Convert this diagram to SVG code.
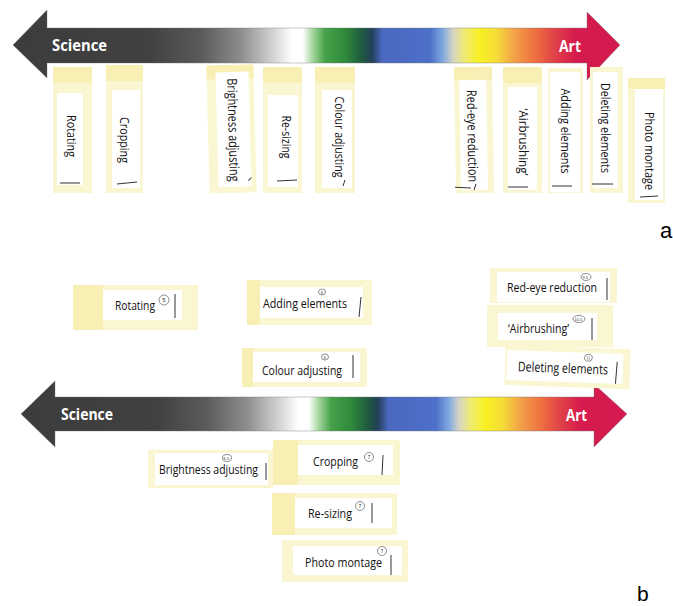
<svg xmlns="http://www.w3.org/2000/svg" xmlns:xlink="http://www.w3.org/1999/xlink" width="673" height="606" viewBox="0 0 673 606">
<defs>
<linearGradient id="spec" gradientUnits="userSpaceOnUse" x1="0" y1="0" x2="673" y2="0">
<stop offset="0" stop-color="#3c3c3c"/>
<stop offset="0.223" stop-color="#414141"/>
<stop offset="0.297" stop-color="#5a5a5a"/>
<stop offset="0.357" stop-color="#8c8c8c"/>
<stop offset="0.409" stop-color="#d8d8d8"/>
<stop offset="0.434" stop-color="#ffffff"/>
<stop offset="0.450" stop-color="#ffffff"/>
<stop offset="0.464" stop-color="#a8d8a0"/>
<stop offset="0.483" stop-color="#45a24a"/>
<stop offset="0.513" stop-color="#2f8a3a"/>
<stop offset="0.538" stop-color="#1f5a40"/>
<stop offset="0.553" stop-color="#23405a"/>
<stop offset="0.568" stop-color="#4a68c0"/>
<stop offset="0.639" stop-color="#4d70c8"/>
<stop offset="0.658" stop-color="#80a8e0"/>
<stop offset="0.673" stop-color="#d4d4c4"/>
<stop offset="0.691" stop-color="#f0ec70"/>
<stop offset="0.713" stop-color="#f8f020"/>
<stop offset="0.738" stop-color="#f5dc38"/>
<stop offset="0.765" stop-color="#f2a048"/>
<stop offset="0.795" stop-color="#ee7040"/>
<stop offset="0.825" stop-color="#e04048"/>
<stop offset="0.854" stop-color="#d61c4e"/>
<stop offset="1" stop-color="#d0164e"/>
</linearGradient>
<linearGradient id="spec2" xlink:href="#spec" href="#spec" gradientUnits="userSpaceOnUse" x1="6" y1="0" x2="679" y2="0"/>
</defs>
<style>
.note{fill:#fbf6d2}
.band{fill:#f7efb4}
.lbl{fill:#ffffff}
.t{font-family:"Open Sans","Liberation Sans",sans-serif;font-size:13.5px;fill:#111}
.end{font-family:"Open Sans","Liberation Sans",sans-serif;font-size:16px;font-weight:bold;fill:#ffffff}
.mk{stroke:#333;stroke-width:1;fill:none}
.c{stroke:#444;stroke-width:0.6;fill:none}
.ct{font-family:"Liberation Sans",sans-serif;font-size:5px;fill:#333}
.panel{font-family:"Liberation Sans",Arial,sans-serif;font-size:22px;fill:#000}
</style>

<g id="connectors">
<path id="arrow-a" d="M13,45 L47,10 L47,28 L587,28 L587,12 L620,45 L587,80 L587,63 L47,63 L47,78 Z" fill="url(#spec)" stroke="#777" stroke-width="0.4"/>
<path id="arrow-b" d="M21,414 L55,381 L55,397 L594,397 L594,384 L627,414 L594,447 L594,431 L55,431 L55,447 Z" fill="url(#spec2)" stroke="#777" stroke-width="0.4"/>
</g>

<g id="arrow-a-labels">
<text class="end" x="52" y="51" textLength="55" lengthAdjust="spacingAndGlyphs">Science</text>
<text class="end" x="559" y="52" textLength="22" lengthAdjust="spacingAndGlyphs">Art</text>
</g>
<g id="arrow-b-labels">
<text class="end" x="61" y="420" textLength="52" lengthAdjust="spacingAndGlyphs">Science</text>
<text class="end" x="566" y="421" textLength="21" lengthAdjust="spacingAndGlyphs">Art</text>
</g>

<!-- Panel a -->
<g id="a-rotating">
<rect class="note" x="53" y="67" width="39" height="126"/>
<rect class="band" x="53" y="67" width="39" height="16"/>
<rect class="lbl" x="57" y="93" width="26" height="92"/>
<text class="t" transform="translate(71,136) rotate(90)" x="0" y="4.5" text-anchor="middle" textLength="42" lengthAdjust="spacingAndGlyphs">Rotating</text>
<line class="mk" x1="60" y1="183" x2="80" y2="183"/>
</g>
<g id="a-cropping">
<rect class="note" x="106" y="65" width="37" height="128"/>
<rect class="band" x="106" y="65" width="37" height="16"/>
<rect class="lbl" x="112" y="90" width="28" height="98"/>
<text class="t" transform="translate(124,140) rotate(90)" x="0" y="4.5" text-anchor="middle" textLength="46" lengthAdjust="spacingAndGlyphs">Cropping</text>
<line class="mk" x1="117" y1="184" x2="137" y2="182"/>
</g>
<g id="a-brightness" transform="rotate(-1.5 231 129)">
<rect class="note" x="208" y="65" width="47" height="128"/>
<rect class="band" x="208" y="65" width="47" height="14"/>
<rect class="lbl" x="217" y="72" width="33" height="115"/>
<text class="t" transform="translate(233,130) rotate(90)" x="0" y="4.5" text-anchor="middle" textLength="103" lengthAdjust="spacingAndGlyphs">Brightness adjusting</text>
<line class="mk" x1="247" y1="181" x2="250" y2="178"/>
</g>
<g id="a-resizing">
<rect class="note" x="263" y="67" width="39" height="126"/>
<rect class="band" x="263" y="67" width="39" height="16"/>
<rect class="lbl" x="268" y="95" width="30" height="92"/>
<text class="t" transform="translate(286,137) rotate(90)" x="0" y="4.5" text-anchor="middle" textLength="43" lengthAdjust="spacingAndGlyphs">Re-sizing</text>
<line class="mk" x1="277" y1="181" x2="297" y2="180"/>
</g>
<g id="a-colour">
<rect class="note" x="315" y="67" width="40" height="126"/>
<rect class="band" x="315" y="67" width="40" height="16"/>
<rect class="lbl" x="322" y="90" width="30" height="98"/>
<text class="t" transform="translate(339,137) rotate(90)" x="0" y="4.5" text-anchor="middle" textLength="81" lengthAdjust="spacingAndGlyphs">Colour adjusting</text>
<line class="mk" x1="343" y1="186" x2="345" y2="180"/>
</g>
<g id="a-redeye" transform="rotate(-1 474 130)">
<rect class="note" x="455" y="67" width="38" height="126"/>
<rect class="band" x="455" y="67" width="38" height="13"/>
<rect class="lbl" x="460" y="80" width="27" height="110"/>
<text class="t" transform="translate(472,136) rotate(90)" x="0" y="4.5" text-anchor="middle" textLength="92" lengthAdjust="spacingAndGlyphs">Red-eye reduction</text>
<line class="mk" x1="454" y1="187" x2="470" y2="188"/>
<line class="mk" x1="473" y1="190" x2="475" y2="184"/>
</g>
<g id="a-airbrushing">
<rect class="note" x="503" y="67" width="39" height="126"/>
<rect class="band" x="503" y="67" width="39" height="16"/>
<rect class="lbl" x="508" y="87" width="29" height="103"/>
<text class="t" transform="translate(523,142) rotate(90)" x="0" y="4.5" text-anchor="middle" textLength="67" lengthAdjust="spacingAndGlyphs">‘Airbrushing’</text>
<line class="mk" x1="508" y1="187" x2="528" y2="187"/>
</g>
<g id="a-adding">
<rect class="note" x="548" y="68" width="35" height="125"/>
<rect class="lbl" x="550" y="72" width="30" height="120"/>
<text class="t" transform="translate(565,131) rotate(90)" x="0" y="4.5" text-anchor="middle" textLength="85" lengthAdjust="spacingAndGlyphs">Adding elements</text>
<line class="mk" x1="552" y1="186" x2="572" y2="186"/>
</g>
<g id="a-deleting">
<rect class="note" x="590" y="67" width="33" height="126"/>
<rect class="lbl" x="593" y="72" width="25" height="116"/>
<text class="t" transform="translate(605,128) rotate(90)" x="0" y="4.5" text-anchor="middle" textLength="90" lengthAdjust="spacingAndGlyphs">Deleting elements</text>
<line class="mk" x1="592" y1="184" x2="613" y2="184"/>
</g>
<g id="a-photomontage">
<rect class="note" x="628" y="78" width="37" height="125"/>
<rect class="band" x="628" y="78" width="37" height="11"/>
<rect class="lbl" x="635" y="89" width="28" height="111"/>
<text class="t" transform="translate(649,151) rotate(90)" x="0" y="4.5" text-anchor="middle" textLength="78" lengthAdjust="spacingAndGlyphs">Photo montage</text>
<line class="mk" x1="640" y1="197" x2="658" y2="196"/>
</g>
<text class="panel" x="660" y="238">a</text>

<!-- Panel b -->
<g id="b-rotating">
<rect class="note" x="73" y="285" width="125" height="45"/>
<rect class="band" x="73" y="285" width="30" height="45"/>
<rect class="lbl" x="103" y="290" width="79" height="30"/>
<text class="t" x="115" y="310" textLength="40" lengthAdjust="spacingAndGlyphs">Rotating</text>
<circle class="c" cx="164" cy="300" r="5"/>
<text class="ct" x="162.3" y="302" style="font-size:6px">5</text>
<line class="mk" x1="175" y1="294" x2="175" y2="318"/>
</g>
<g id="b-adding">
<rect class="note" x="247" y="280" width="125" height="45"/>
<rect class="band" x="247" y="280" width="13" height="45"/>
<rect class="lbl" x="260" y="287" width="103" height="31"/>
<text class="t" x="263" y="308" textLength="84" lengthAdjust="spacingAndGlyphs">Adding elements</text>
<ellipse class="c" cx="322" cy="292" rx="3.5" ry="3"/>
<text class="ct" x="320.8" y="293.8" style="font-size:4px">6</text>
<line class="mk" x1="361" y1="297" x2="359" y2="317"/>
</g>
<g id="b-colour">
<rect class="note" x="242" y="348" width="125" height="39"/>
<rect class="band" x="242" y="348" width="11" height="39"/>
<rect class="lbl" x="253" y="352" width="107" height="30"/>
<text class="t" x="262" y="375" textLength="80" lengthAdjust="spacingAndGlyphs">Colour adjusting</text>
<ellipse class="c" cx="325" cy="357" rx="3.5" ry="3"/>
<text class="ct" x="323.8" y="358.8" style="font-size:4px">6</text>
<line class="mk" x1="353" y1="355" x2="353" y2="378"/>
</g>
<g id="b-redeye">
<rect class="note" x="490" y="268" width="127" height="35"/>
<rect class="lbl" x="497" y="272" width="113" height="30"/>
<text class="t" x="507" y="292" textLength="90" lengthAdjust="spacingAndGlyphs">Red-eye reduction</text>
<ellipse class="c" cx="586" cy="277" rx="5" ry="3.5"/>
<text class="ct" x="582.5" y="278.6" style="font-size:4px">9.5</text>
<line class="mk" x1="607" y1="278" x2="607" y2="300"/>
</g>
<g id="b-airbrushing">
<rect class="note" x="487" y="305" width="126" height="42"/>
<rect class="lbl" x="498" y="313" width="99" height="27"/>
<text class="t" x="508" y="333" textLength="61" lengthAdjust="spacingAndGlyphs">‘Airbrushing’</text>
<ellipse class="c" cx="579" cy="319" rx="6" ry="3.5"/>
<text class="ct" x="574.5" y="320.6" style="font-size:4px">10.5</text>
<line class="mk" x1="592" y1="318" x2="592" y2="340"/>
</g>
<g id="b-deleting" transform="rotate(2 567 367)">
<rect class="note" x="505" y="347" width="125" height="40"/>
<rect class="lbl" x="507" y="352" width="116" height="30"/>
<text class="t" x="518" y="373" textLength="90" lengthAdjust="spacingAndGlyphs">Deleting elements</text>
<ellipse class="c" cx="588" cy="357" rx="4" ry="3.5"/>
<text class="ct" x="585.8" y="358.6" style="font-size:4px">11</text>
<line class="mk" x1="617" y1="360" x2="616" y2="382"/>
</g>
<g id="b-brightness">
<rect class="note" x="148" y="450" width="125" height="38"/>
<rect class="lbl" x="155" y="453" width="113" height="32"/>
<text class="t" x="159" y="474" textLength="99" lengthAdjust="spacingAndGlyphs">Brightness adjusting</text>
<ellipse class="c" cx="227" cy="458" rx="4.5" ry="3.5"/>
<text class="ct" x="223.6" y="459.6" style="font-size:4px">6.5</text>
<line class="mk" x1="266" y1="463" x2="266" y2="480"/>
</g>
<g id="b-cropping">
<rect class="note" x="273" y="440" width="127" height="45"/>
<rect class="band" x="273" y="440" width="25" height="45"/>
<rect class="lbl" x="298" y="445" width="95" height="30"/>
<text class="t" x="313" y="466" textLength="45" lengthAdjust="spacingAndGlyphs">Cropping</text>
<circle class="c" cx="369" cy="457" r="4.5"/>
<text class="ct" x="367.5" y="459" style="font-size:5px">7</text>
<line class="mk" x1="383" y1="455" x2="382" y2="475"/>
</g>
<g id="b-resizing">
<rect class="note" x="272" y="493" width="125" height="42"/>
<rect class="band" x="272" y="493" width="23" height="42"/>
<rect class="lbl" x="295" y="498" width="97" height="30"/>
<text class="t" x="308" y="518" textLength="44" lengthAdjust="spacingAndGlyphs">Re-sizing</text>
<circle class="c" cx="360" cy="506" r="4.5"/>
<text class="ct" x="358.5" y="508" style="font-size:5px">7</text>
<line class="mk" x1="372" y1="503" x2="372" y2="523"/>
</g>
<g id="b-photomontage">
<rect class="note" x="282" y="540" width="126" height="42"/>
<rect class="lbl" x="293" y="546" width="109" height="29"/>
<text class="t" x="305" y="567" textLength="77" lengthAdjust="spacingAndGlyphs">Photo montage</text>
<circle class="c" cx="382" cy="551" r="4.5"/>
<text class="ct" x="380.5" y="553" style="font-size:5px">7</text>
<line class="mk" x1="391" y1="555" x2="391" y2="575"/>
</g>
<text class="panel" x="637" y="601" style="font-size:21px">b</text>
</svg>
